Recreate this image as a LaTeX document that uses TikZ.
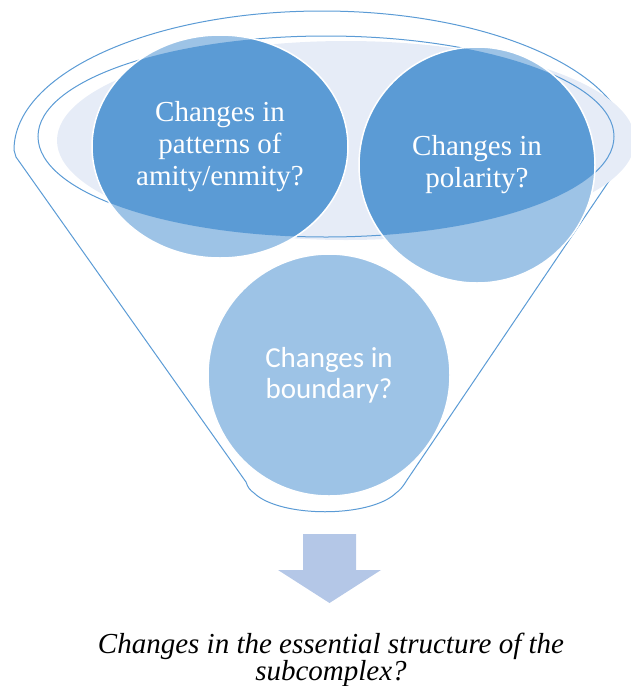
\documentclass[tikz,border=0pt]{standalone}
\usepackage{fontspec}
\setmainfont{Liberation Serif}
\newfontfamily\calibrifont{Carlito}
\usetikzlibrary{shapes.geometric}

\definecolor{funnelblue}{RGB}{91,155,213}
\definecolor{bubblelight}{RGB}{157,195,230}
\definecolor{rimfill}{RGB}{230,236,247}
\definecolor{arrowblue}{RGB}{180,199,231}

\begin{document}
\begin{tikzpicture}[
			x = 1pt, y = -1pt,
			every node/.style = {align = center, text = white, inner sep = 0pt},
			bubble/.style = {ellipse, fill = bubblelight, draw = white, line width = 1.5pt,
				minimum width = 240pt, minimum height = 240pt,
				path picture = {\fill[funnelblue] (rim) ellipse [x radius = 288, y radius = 100.5];}},
			serif/.style = {font = \fontsize{29}{32}\selectfont},
			sans/.style = {font = \calibrifont\fontsize{29}{31}\selectfont},
			rimline/.style = {draw = funnelblue, line width = 1pt}]
			\useasboundingbox (0,0) rectangle (631,686);
			\coordinate (rim) at (326,136.5);

			% funnel outline
			\draw[rimline] (14,150) arc [start angle = 180, end angle = 360, x radius = 308, y radius = 139]
				-- (407,480) .. controls (402,488) and (400,490) .. (396,493)
				.. controls (370,518) and (280,518) .. (254,493)
				.. controls (250,490) and (248,488) .. (246,482) -- (16,157) -- cycle;
			\fill[rimfill] (346,140.5) ellipse [x radius = 289, y radius = 99.5];
			\draw[rimline] (rim) ellipse [x radius = 288, y radius = 100.5];

			% Bubbles
			\node[bubble, serif, minimum width = 256pt, minimum height = 223pt] (amity) at (220,146.5) {Changes in\\patterns of\\amity/enmity?};
			\node[bubble, serif, minimum size = 236pt] (polarity) at (477,165) {Changes in\\polarity?};
			\node[bubble, sans, minimum size = 242pt] (boundary) at (329,375) {Changes in\\boundary?};

			% Arrow and caption
			\fill[arrowblue] (303,534) -- (356,534) -- (356,570) -- (381,570) -- (329.5,603) -- (278,570) -- (303,570) -- cycle;
			\node[text = black, font = \itshape\fontsize{29}{27}\selectfont] (caption) at (331,660) {Changes in the essential structure of the\\subcomplex?};
		\end{tikzpicture}
\end{document}
